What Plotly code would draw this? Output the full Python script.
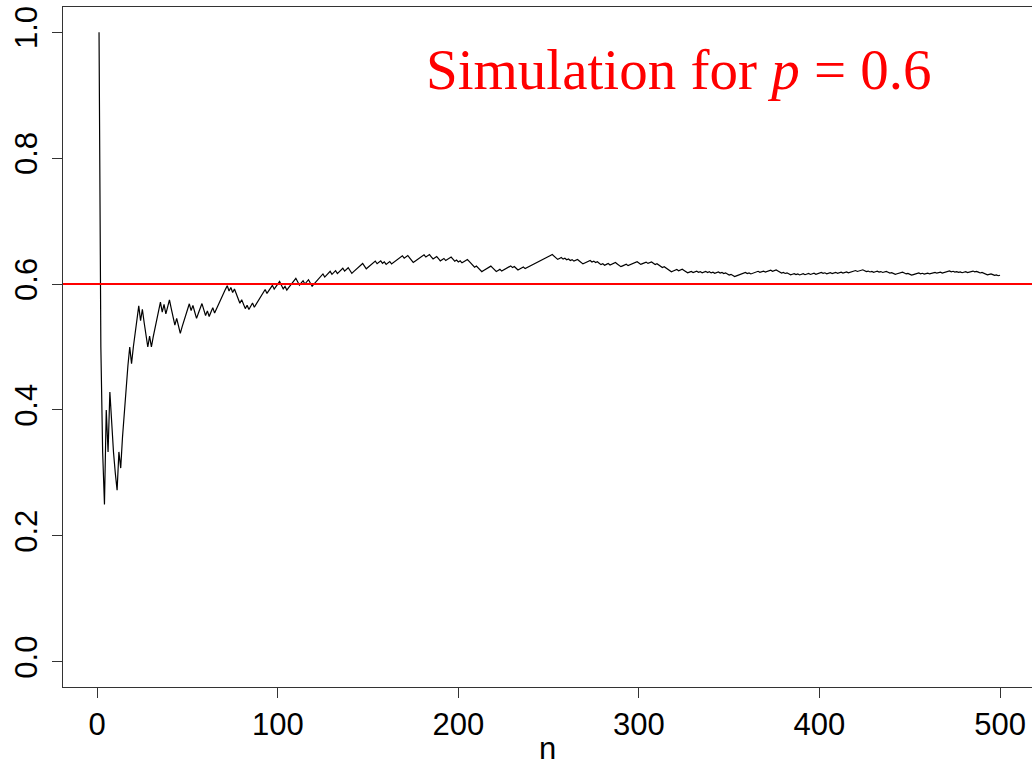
import numpy as np
import plotly.graph_objects as go

# Bernoulli outcomes (1 = success) read from the running-proportion path, in blocks of 10 trials
outcome_blocks = [
    "1000101000", "0101111101", "1110100010", "1111101011", "0001001111",
    "1010011100", "1011011111", "1101010001", "0010110111", "1110111011",
    "1001011111", "0011011001", "1111101110", "1101110110", "0111111001",
    "1111011010", "1101111110", "1100011111", "1011001100", "1101110010",
    "1011100001", "0001111100", "0110111110", "1001110111", "1111111111",
    "1100011010", "1010110001", "1110101001", "0110111000", "1110111110",
    "0111011001", "0001000011", "1011000110", "1101011010", "1011010100",
    "1001111110", "1011110110", "1110110001", "0100110101", "1011011011",
    "1010110110", "1101101111", "0111001010", "1101011001", "0011110010",
    "0111101011", "0111011011", "1101010101", "1011101001", "0001100101",
]
p_true = 0.6
x_ticks = [0, 100, 200, 300, 400, 500]
y_ticks = [0.0, 0.2, 0.4, 0.6, 0.8, 1.0]
x_label = "n"
title_text = "Simulation for <i>p</i> = 0.6"

outcomes = np.array([int(c) for block in outcome_blocks for c in block])
n = np.arange(1, len(outcomes) + 1)
proportion = np.cumsum(outcomes) / n

axis_font = dict(family="Liberation Sans, Arial, Helvetica, sans-serif", size=31, color="black")
line_col = "#333333"

fig = go.Figure()
fig.add_trace(go.Scatter(x=n, y=proportion, mode="lines",
                         line=dict(color="black", width=1.2), showlegend=False,
                         hoverinfo="skip"))

fig.add_shape(type="line", xref="paper", x0=0, x1=1, yref="y", y0=p_true, y1=p_true,
              line=dict(color="#ff0000", width=2))

fig.add_annotation(text=title_text, xref="paper", yref="paper", x=0.3725, y=0.908,
                   xanchor="left", yanchor="middle", showarrow=False,
                   font=dict(family="Liberation Serif, Times New Roman, serif", size=57, color="#ff0000"))

fig.update_xaxes(range=[-18.96, 517.7], tickvals=x_ticks, ticktext=[str(v) for v in x_ticks],
                 ticks="outside", ticklen=10, tickwidth=1, tickcolor=line_col,
                 showline=True, mirror=True, linecolor=line_col, linewidth=1.3,
                 showgrid=False, zeroline=False, tickfont=axis_font, automargin=False,
                 title=dict(text=x_label, font=axis_font, standoff=16))
fig.update_yaxes(range=[-0.04, 1.04], tickvals=y_ticks, ticktext=[f"{v:.1f}" for v in y_ticks],
                 ticks="outside", ticklen=10, tickwidth=1, tickcolor=line_col,
                 showline=True, mirror=False, linecolor=line_col, linewidth=1.3,
                 showgrid=False, zeroline=False, tickfont=axis_font, tickangle=-90,
                 ticklabelstandoff=2, automargin=False)

fig.update_layout(width=1032, height=766, autosize=False,
                  margin=dict(l=63, r=0, t=7, b=79, pad=0),
                  paper_bgcolor="white", plot_bgcolor="white")

fig.write_html("out.html")
